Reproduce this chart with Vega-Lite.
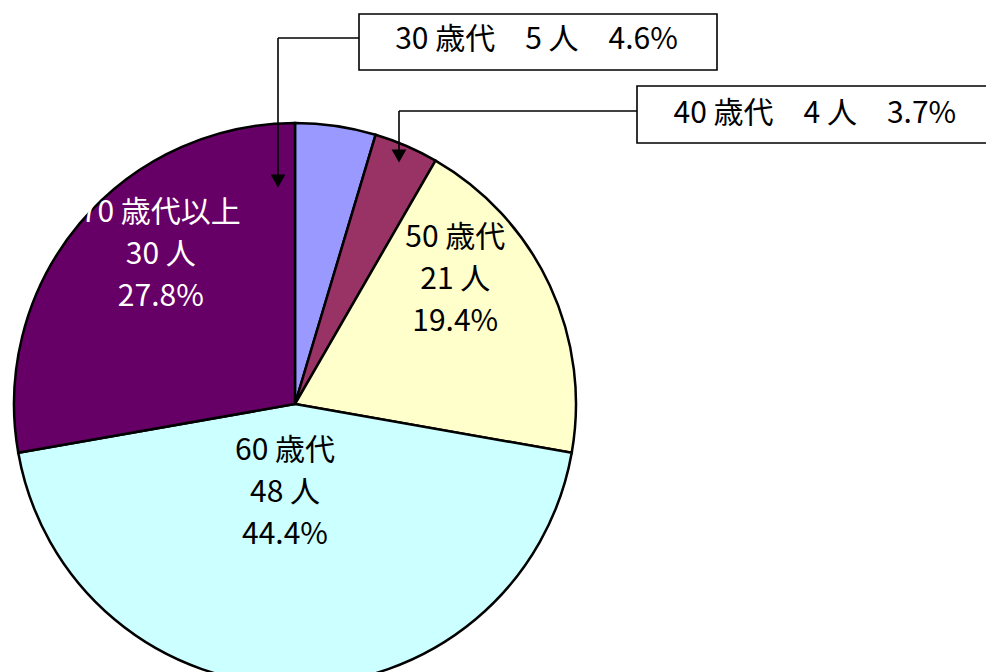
{
  "$schema": "https://vega.github.io/schema/vega-lite/v6.json",
  "width": 590,
  "height": 808,
  "autosize": {"type": "none"},
  "padding": {"left": 0, "top": 0, "right": 396, "bottom": 0},
  "background": "white",
  "config": {"view": {"stroke": null}, "text": {"font": "Noto Sans CJK JP", "fontSize": 30}},
  "layer": [
    {
      "data": {"name": "ages", "values": [
        {"age": "30歳代", "count": 5, "order": 1, "inside": "30 歳代\n5 人\n4.6%", "callout": "30 歳代　5 人　4.6%"},
        {"age": "40歳代", "count": 4, "order": 2, "inside": "40 歳代\n4 人\n3.7%", "callout": "40 歳代　4 人　3.7%"},
        {"age": "50歳代", "count": 21, "order": 3, "inside": "50 歳代\n21 人\n19.4%", "callout": "50 歳代　21 人　19.4%"},
        {"age": "60歳代", "count": 48, "order": 4, "inside": "60 歳代\n48 人\n44.4%", "callout": "60 歳代　48 人　44.4%"},
        {"age": "70歳代以上", "count": 30, "order": 5, "inside": "70 歳代以上\n30 人\n27.8%", "callout": "70 歳代以上　30 人　27.8%"}
      ]},
      "encoding": {
        "theta": {"field": "count", "type": "quantitative", "stack": true},
        "order": {"field": "order", "type": "quantitative"}
      },
      "layer": [
        {
          "mark": {"type": "arc", "outerRadius": 281, "stroke": "black", "strokeWidth": 2.5},
          "encoding": {
            "color": {"field": "age", "type": "nominal", "legend": null,
              "scale": {"domain": ["30歳代", "40歳代", "50歳代", "60歳代", "70歳代以上"],
                        "range": ["#9999FF", "#993366", "#FFFFCC", "#CCFFFF", "#660066"]}}
          }
        },
        {
          "mark": {"type": "text", "radius": 200, "dx": 19, "dy": -62, "lineBreak": "\n", "lineHeight": 42, "align": "center", "baseline": "middle", "color": "white"},
          "encoding": {"text": {"condition": {"test": "datum.age === '70歳代以上'", "field": "inside"}, "value": ""}}
        },
        {
          "mark": {"type": "text", "radius": 200, "dx": -21, "dy": -81, "lineBreak": "\n", "lineHeight": 42, "align": "center", "baseline": "middle", "color": "black"},
          "encoding": {"text": {"condition": {"test": "datum.age === '50歳代'", "field": "inside"}, "value": ""}}
        },
        {
          "mark": {"type": "text", "radius": 88, "dx": -10, "dy": -41, "lineBreak": "\n", "lineHeight": 42, "align": "center", "baseline": "middle", "color": "black"},
          "encoding": {"text": {"condition": {"test": "datum.age === '60歳代'", "field": "inside"}, "value": ""}}
        }
      ]
    },
    {
      "data": {"values": [{}]},
      "layer": [
        {"mark": {"type": "rule", "stroke": "black", "strokeWidth": 1.6}, "encoding": {"x": {"value": 278}, "x2": {"value": 359}, "y": {"value": 38}, "y2": {"value": 38}}},
        {"mark": {"type": "rule", "stroke": "black", "strokeWidth": 1.6}, "encoding": {"x": {"value": 278}, "x2": {"value": 278}, "y": {"value": 38}, "y2": {"value": 176}}},
        {"mark": {"type": "point", "shape": "triangle-down", "filled": true, "color": "black", "size": 220, "opacity": 1}, "encoding": {"x": {"value": 278}, "y": {"value": 181}}},
        {"mark": {"type": "rule", "stroke": "black", "strokeWidth": 1.6}, "encoding": {"x": {"value": 399}, "x2": {"value": 637}, "y": {"value": 111}, "y2": {"value": 111}}},
        {"mark": {"type": "rule", "stroke": "black", "strokeWidth": 1.6}, "encoding": {"x": {"value": 399}, "x2": {"value": 399}, "y": {"value": 111}, "y2": {"value": 151}}},
        {"mark": {"type": "point", "shape": "triangle-down", "filled": true, "color": "black", "size": 220, "opacity": 1}, "encoding": {"x": {"value": 399}, "y": {"value": 156}}},
        {"mark": {"type": "rect", "fill": "white", "stroke": "black", "strokeWidth": 1.6}, "encoding": {"x": {"value": 359}, "x2": {"value": 717}, "y": {"value": 14}, "y2": {"value": 70}}},
        {"mark": {"type": "rect", "fill": "white", "stroke": "black", "strokeWidth": 1.6}, "encoding": {"x": {"value": 637}, "x2": {"value": 1000}, "y": {"value": 86}, "y2": {"value": 143}}}
      ]
    },
    {
      "data": {"name": "ages"},
      "encoding": {
        "theta": {"field": "count", "type": "quantitative", "stack": true},
        "order": {"field": "order", "type": "quantitative"}
      },
      "layer": [
        {
          "mark": {"type": "text", "radius": 300, "dx": 198, "dy": -67, "align": "center", "baseline": "middle", "color": "black"},
          "encoding": {"text": {"condition": {"test": "datum.age === '30歳代'", "field": "callout"}, "value": ""}}
        },
        {
          "mark": {"type": "text", "radius": 300, "dx": 401, "dy": -15, "align": "center", "baseline": "middle", "color": "black"},
          "encoding": {"text": {"condition": {"test": "datum.age === '40歳代'", "field": "callout"}, "value": ""}}
        }
      ]
    }
  ]
}
